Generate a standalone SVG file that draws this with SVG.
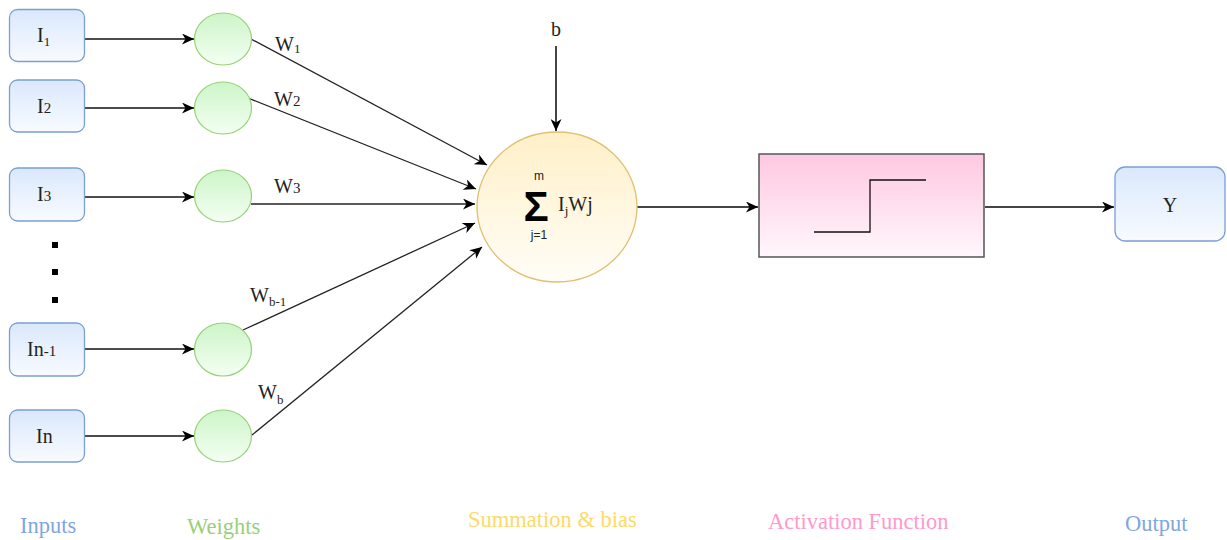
<svg xmlns="http://www.w3.org/2000/svg" width="1227" height="540" viewBox="0 0 1227 540">
<style>
.box{stroke:#7a9fd4;stroke-width:1.3;fill:url(#gBlue)}
.wc{stroke:#97d077;stroke-width:1.2;fill:url(#gGreen)}
.t{font-family:"Liberation Serif",serif;font-size:20px;fill:#222}
.s{font-family:"Liberation Serif",serif;font-size:13px;fill:#222}
.lab{font-family:"Liberation Serif",serif;font-size:22.5px}
.e{stroke:#111;stroke-width:1.6;fill:none;marker-end:url(#ah)}
.w{stroke:#222;stroke-width:1.3;fill:none;marker-end:url(#ah)}
.g{stroke:#444;stroke-width:2;fill:none;marker-end:url(#ah)}
</style>
<defs>
<linearGradient id="gBlue" x1="0" y1="0" x2="0" y2="1"><stop offset="0" stop-color="#dae8fc"/><stop offset="1" stop-color="#f8fbff"/></linearGradient>
<linearGradient id="gGreen" x1="0" y1="0" x2="0" y2="1"><stop offset="0" stop-color="#ccf5c8"/><stop offset="1" stop-color="#f4fff2"/></linearGradient>
<linearGradient id="gYellow" x1="0" y1="0" x2="0" y2="1"><stop offset="0" stop-color="#fff0c8"/><stop offset="1" stop-color="#fffdf7"/></linearGradient>
<linearGradient id="gPink" x1="0" y1="0" x2="0" y2="1"><stop offset="0" stop-color="#ffc8e2"/><stop offset="1" stop-color="#fff7fb"/></linearGradient>
<marker id="ah" markerUnits="userSpaceOnUse" markerWidth="13" markerHeight="11" refX="12" refY="5.5" orient="auto"><path d="M0,0 L12,5.5 L0,11 L3.5,5.5 z" fill="#000"/></marker>
</defs>

<g id="connectors">
<line class="e" x1="85" y1="39" x2="194" y2="39"/>
<line class="e" x1="85" y1="108" x2="194" y2="108"/>
<line class="e" x1="85" y1="197" x2="194" y2="197"/>
<line class="e" x1="85" y1="349" x2="194" y2="349"/>
<line class="e" x1="85" y1="436" x2="194" y2="436"/>
<line class="w" x1="251" y1="39" x2="487" y2="165"/>
<line class="w" x1="248" y1="98" x2="476" y2="189"/>
<line class="w" x1="251" y1="204" x2="475" y2="204"/>
<line class="w" x1="243" y1="330" x2="475" y2="223"/>
<line class="w" x1="252" y1="435" x2="482" y2="247"/>
<line class="g" x1="556" y1="46" x2="556" y2="131"/>
<line class="g" x1="637" y1="207" x2="758" y2="207"/>
<line class="g" x1="985" y1="207" x2="1114" y2="207"/>
</g>

<g id="dots" fill="#000">
<rect x="52" y="242" width="6" height="6"/>
<rect x="52" y="269" width="6" height="6"/>
<rect x="52" y="297" width="6" height="6"/>
</g>

<g id="in1"><rect class="box" x="9.5" y="9.5" width="75" height="52" rx="8"/><text class="t" x="37" y="42">I<tspan class="s" dy="4">1</tspan></text></g>
<g id="in2"><rect class="box" x="9.5" y="80" width="75" height="52" rx="8"/><text class="t" x="37" y="113">I<tspan font-size="15">2</tspan></text></g>
<g id="in3"><rect class="box" x="9.5" y="168" width="75" height="53" rx="8"/><text class="t" x="37" y="201">I<tspan font-size="15">3</tspan></text></g>
<g id="inm1"><rect class="box" x="9.5" y="323" width="75" height="53" rx="8"/><text class="t" x="27" y="356">In<tspan font-size="15">-1</tspan></text></g>
<g id="inn"><rect class="box" x="9.5" y="410" width="75" height="52" rx="8"/><text class="t" x="36" y="443">In</text></g>

<g id="w1"><ellipse class="wc" cx="223" cy="39" rx="28.5" ry="26"/><text class="t" x="275" y="51">W<tspan class="s" dy="2">1</tspan></text></g>
<g id="w2"><ellipse class="wc" cx="223" cy="108" rx="28.5" ry="26"/><text class="t" x="274" y="106">W<tspan font-size="15">2</tspan></text></g>
<g id="w3"><ellipse class="wc" cx="223" cy="196" rx="28.5" ry="26"/><text class="t" x="274" y="193">W<tspan font-size="15">3</tspan></text></g>
<g id="wbm1"><ellipse class="wc" cx="223" cy="349.5" rx="28.5" ry="26.5"/><text class="t" x="250" y="302">W<tspan class="s" dy="4">b-1</tspan></text></g>
<g id="wb"><ellipse class="wc" cx="223" cy="436" rx="28.5" ry="26"/><text class="t" x="258" y="399">W<tspan class="s" dy="5">b</tspan></text></g>

<g id="bias"><text class="t" x="556" y="36" text-anchor="middle">b</text></g>

<g id="sum"><ellipse cx="557" cy="207" rx="80" ry="75" fill="url(#gYellow)" stroke="#e0c070" stroke-width="1.3"/>
<text x="536" y="221" text-anchor="middle" font-family="Liberation Sans,sans-serif" font-size="42" font-weight="bold" fill="#000">Σ</text>
<text x="539" y="180" text-anchor="middle" font-family="Liberation Sans,sans-serif" font-size="12" fill="#222">m</text>
<text x="539" y="239" text-anchor="middle" font-family="Liberation Sans,sans-serif" font-size="12" fill="#222">j=1</text>
<text class="t" x="558" y="211">I<tspan class="s" dy="4">j</tspan><tspan dy="-4">Wj</tspan></text>
</g>

<g id="act"><rect x="759" y="154" width="225" height="103" fill="url(#gPink)" stroke="#555" stroke-width="1.5"/>
<polyline points="814,232 870,232 870,180 926,180" fill="none" stroke="#111" stroke-width="1.3"/></g>

<g id="out"><rect class="box" x="1115" y="167" width="110" height="74" rx="10"/><text class="t" x="1170" y="212" text-anchor="middle">Y</text></g>

<g id="labels">
<text class="lab" x="20" y="533" fill="#7ea6e0">Inputs</text>
<text class="lab" x="187" y="534" fill="#97d077">Weights</text>
<text class="lab" x="468" y="527" fill="#ffd966">Summation &amp; bias</text>
<text class="lab" x="768" y="529" fill="#ff99cc">Activation Function</text>
<text class="lab" x="1125" y="531" fill="#7ea6e0">Output</text>
</g>
</svg>
